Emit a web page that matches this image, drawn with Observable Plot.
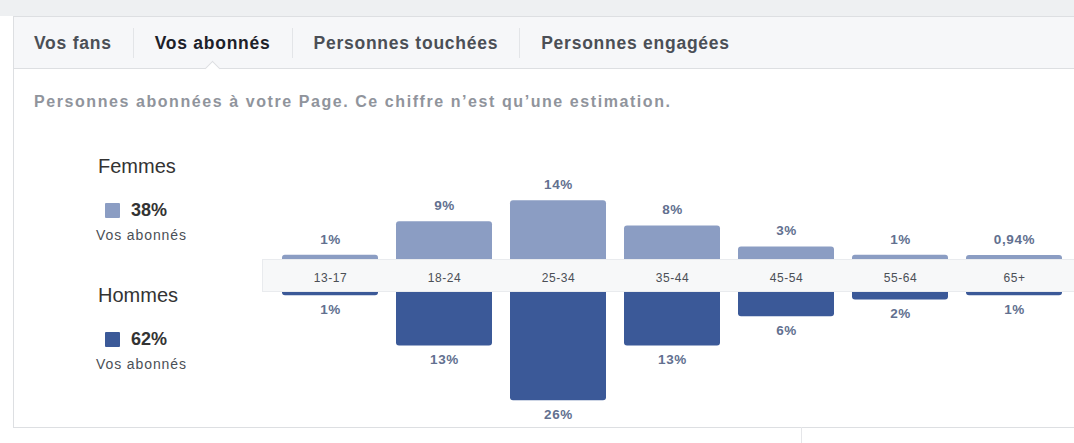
<!DOCTYPE html>
<html><head><meta charset="utf-8">
<script src="https://cdn.jsdelivr.net/npm/d3@7"></script>
<script src="https://cdn.jsdelivr.net/npm/@observablehq/plot@0.6"></script>
<style>
body{margin:0;background:#fff;font-family:"Liberation Sans",Arial,Helvetica,sans-serif;}
#root{position:relative;width:1074px;height:443px;overflow:hidden;background:#fff;}
.topband{position:absolute;left:0;top:0;width:1074px;height:16px;background:#eef0f2;}
.card{position:absolute;left:13px;top:16px;width:1070px;height:410px;border:1px solid #dddfe2;border-right:none;background:#fff;}
.tabs{position:absolute;left:14px;top:17px;width:1060px;height:51px;background:#f6f7f9;border-bottom:1px solid #dddfe2;display:flex;align-items:center;}
.tab{font-weight:bold;font-size:17.5px;letter-spacing:0.75px;color:#4b4f56;padding:0 21px;line-height:30px;border-left:1px solid #e3e5e8;white-space:nowrap;}
.tab:first-child{border-left:none;padding-left:20px;}
.tab.active{color:#1d2129;}
.notch{position:absolute;top:63px;width:10px;height:10px;background:#fff;border-top:1px solid #dddfe2;border-left:1px solid #dddfe2;transform:rotate(45deg);}
.subtitle{position:absolute;left:34px;top:93px;font-size:16px;letter-spacing:1.57px;font-weight:bold;color:#90949c;white-space:nowrap;}
.gname{position:absolute;left:98px;font-size:20px;color:#333;}
.gval{position:absolute;left:105px;font-size:18px;font-weight:bold;color:#333;display:flex;align-items:center;}
.gval .sq{width:15px;height:15px;margin-right:11px;border-radius:1px;}
.gsub{position:absolute;left:96px;font-size:14px;letter-spacing:0.9px;color:#4b4f56;}
.plot{position:absolute;left:262px;}
.vline{position:absolute;left:801px;top:427px;width:1px;height:16px;background:#e5e6e9;}
</style>
</head><body>
<div id="root">
  <div class="topband"></div>
  <div class="card"></div>
  <div class="tabs" id="tabs"></div>
  <div class="notch" id="notch"></div>
  <div class="subtitle" id="subtitle"></div>
  <div id="legend"></div>
  <div class="plot" id="pf" style="top:170px"></div>
  <div class="plot" id="pm" style="top:259px"></div>
  <div class="vline"></div>
</div>
<script>
// ---- data ----
const tabs = ["Vos fans", "Vos abonnés", "Personnes touchées", "Personnes engagées"];
const activeTab = "Vos abonnés";
const subtitle = "Personnes abonnées à votre Page. Ce chiffre n’est qu’une estimation.";
const ages = ["13-17", "18-24", "25-34", "35-44", "45-54", "55-64", "65+"];
const femmes = [1, 9, 14, 8, 3, 1, 0.94];
const hommes = [1, 13, 26, 13, 6, 2, 1];
const groups = ["Femmes", "Hommes"];
const groupShares = [38, 62];
const groupSub = "Vos abonnés";

// ---- styles ----
const colF = "#8b9dc3";
const colM = "#3b5998";
const labelCol = "#62708f";
const fr = d3.formatLocale({decimal: ",", thousands: " ", grouping: [3], currency: ["", " €"]});
const pct = v => fr.format("~g")(v) + "%";

// tabs
const tabsEl = document.getElementById("tabs");
tabs.forEach(t => {
  const s = document.createElement("div");
  s.className = "tab" + (t === activeTab ? " active" : "");
  s.textContent = t;
  tabsEl.appendChild(s);
});
document.getElementById("subtitle").textContent = subtitle;

// legend
const legend = document.getElementById("legend");
const gTops = [155, 284];
groups.forEach((g, i) => {
  const top = gTops[i];
  legend.insertAdjacentHTML("beforeend",
    `<div class="gname" style="top:${top}px">${g}</div>` +
    `<div class="gval" style="top:${top + 45}px"><span class="sq" style="background:${i ? colM : colF}"></span>${groupShares[i]}%</div>` +
    `<div class="gsub" style="top:${top + 72}px">${groupSub}</div>`);
});

const dataF = ages.map((a, i) => ({age: a, v: femmes[i]}));
const dataM = ages.map((a, i) => ({age: a, v: hommes[i]}));
const W = 812, PXPER = 4.2;
const xOpt = {domain: ages, paddingInner: 0.154, paddingOuter: 0, axis: null};
const font = {fontFamily: "Liberation Sans, Arial, sans-serif", letterSpacing: "0.6px"};

// female (upward)
const hF = 100, mbF = 11;
const pf = Plot.plot({
  width: W, height: hF, marginLeft: 18, marginRight: 9, marginTop: 0, marginBottom: mbF,
  style: {background: "transparent", overflow: "visible", ...font},
  x: xOpt,
  y: {domain: [0, (hF - mbF) / PXPER], axis: null},
  marks: [
    Plot.barY(dataF, {x: "age", y: "v", fill: colF, rx: 3, insetBottom: -8}),
    Plot.text(dataF, {x: "age", y: "v", text: d => pct(d.v), dy: -16, fill: labelCol, fontWeight: "bold", fontSize: 13.5})
  ]
});
document.getElementById("pf").appendChild(pf);

// male (downward) with age strip
const hM = 170, mtM = 32;
const pm = Plot.plot({
  width: W, height: hM, marginLeft: 18, marginRight: 9, marginTop: mtM, marginBottom: 0,
  style: {background: "transparent", overflow: "visible", ...font},
  x: xOpt,
  y: {domain: [0, (hM - mtM) / PXPER], reverse: true, axis: null},
  marks: [
    Plot.barY(dataM, {x: "age", y: "v", fill: colM, rx: 3, insetTop: -8}),
    Plot.frame({fill: "#f7f8f9", stroke: "#e9ebee", insetTop: -mtM, insetBottom: hM - mtM, insetLeft: -18, insetRight: -12}),
    Plot.axisX({anchor: "top", tickSize: 0, tickPadding: 10, fontSize: 12, fill: "#4b4f56", label: null}),
    Plot.text(dataM, {x: "age", y: "v", text: d => pct(d.v), dy: 14, fill: labelCol, fontWeight: "bold", fontSize: 13.5})
  ]
});
document.getElementById("pm").appendChild(pm);

// notch under active tab
const activeEl = [...tabsEl.children].find(c => c.textContent === activeTab);
const r = activeEl.getBoundingClientRect();
document.getElementById("notch").style.left = (r.left + r.width / 2 - 5) + "px";
</script>
</body></html>
